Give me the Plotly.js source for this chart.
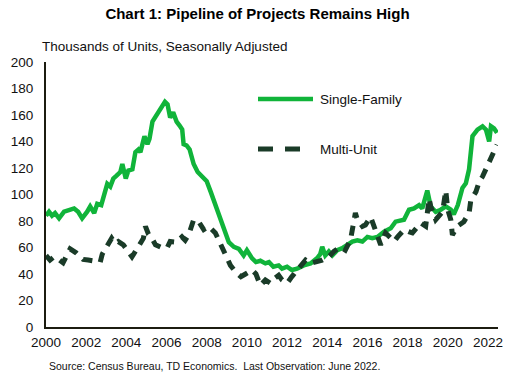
<!DOCTYPE html>
<html>
<head>
<meta charset="utf-8">
<script src="https://cdn.plot.ly/plotly-3.0.1.min.js"></script>
<style>html,body{margin:0;padding:0;background:#fff;}#chart{width:515px;height:385px;}</style>
</head>
<body>
<div id="chart"></div>
<script>
// Single-family units under construction (thousands, SA)
const sfYears = [2000.0,2000.15,2000.3,2000.45,2000.65,2000.9,2001.1,2001.4,2001.6,2001.8,2002.05,2002.2,2002.4,2002.55,2002.75,2002.85,2003.05,2003.2,2003.35,2003.5,2003.7,2003.8,2003.97,2004.1,2004.3,2004.45,2004.6,2004.7,2004.9,2005.05,2005.15,2005.3,2005.55,2005.75,2005.92,2006.05,2006.18,2006.33,2006.5,2006.65,2006.78,2006.85,2007.0,2007.15,2007.35,2007.55,2007.75,2008.0,2008.2,2008.35,2008.6,2008.85,2009.1,2009.35,2009.6,2009.84,2010.0,2010.25,2010.45,2010.67,2010.92,2011.1,2011.32,2011.58,2011.75,2012.0,2012.24,2012.5,2012.83,2013.17,2013.5,2013.65,2013.75,2013.9,2014.08,2014.25,2014.5,2014.75,2015.0,2015.25,2015.5,2015.75,2016.0,2016.24,2016.5,2016.83,2017.16,2017.4,2017.82,2018.07,2018.32,2018.57,2018.73,2018.98,2019.15,2019.4,2019.65,2019.9,2020.15,2020.3,2020.5,2020.73,2020.9,2021.06,2021.23,2021.48,2021.73,2021.9,2022.06,2022.15,2022.3,2022.45];
const sfValues = [84,87,84,86,82,87,88,89.5,87,82,87,91,86,93,92,98,108,106,112,114,117,123,112,118,119,132,134,132,144,138,142,155,161,165,170,168,158,162,155,152,149,138,137,134,123,117,114,110,102,96,86,76,64,60.5,59,54,58,52,49,50,48,49,45.5,46.5,44,45.5,43,44,46.5,48,52,55,60.5,54,57,54,58,59.5,62,64.5,65.5,64.5,68,67,68,72,74.5,79.5,81,88.5,89.5,92,89.5,103,91,87,88.5,91,88.5,85,92,105,108.5,119,144,149,151.5,149,140,151.5,150,146.5];

// Multi-unit units under construction (thousands, SA)
const muYears = [2000.0,2000.2,2000.4,2000.55,2000.85,2001.05,2001.2,2001.5,2001.85,2002.1,2002.4,2002.7,2002.8,2003.1,2003.27,2003.45,2003.6,2003.85,2004.28,2004.55,2004.85,2004.95,2005.1,2005.27,2005.45,2005.75,2006.02,2006.18,2006.5,2006.77,2006.93,2007.1,2007.35,2007.6,2007.85,2008.1,2008.43,2008.6,2008.84,2009.18,2009.5,2009.7,2009.93,2010.26,2010.45,2010.67,2010.92,2011.17,2011.4,2011.58,2011.75,2012.0,2012.24,2012.5,2012.92,2013.17,2013.42,2013.75,2014.08,2014.33,2014.66,2014.9,2015.16,2015.4,2015.5,2015.75,2015.9,2016.16,2016.33,2016.66,2016.9,2017.1,2017.33,2017.5,2017.83,2018.05,2018.24,2018.65,2018.9,2019.07,2019.15,2019.4,2019.57,2019.74,2019.9,2020.0,2020.15,2020.23,2020.48,2020.8,2021.06,2021.15,2021.4,2021.57,2021.73,2021.98,2022.15,2022.45];
const muValues = [54,50.5,53,52,48.5,55,59,56,51,50.5,50,49,55,62,67,63,64.5,62,53,59.5,67,76,70,67,62,60,59.5,64.5,64,68,65.5,69.5,81,79.5,73.5,76,71,65.5,58,46.5,40.5,38,40,43,40,31.5,35.5,33,37,39,35.5,33,38,43,50.5,48,49,50.5,53,57,60.5,58,66,86,81,76,77,83,76,62,71,68,64.5,68,73.5,72,71,78.5,76,97,91,81,84.5,87,103,88.5,81,69.5,76,79.5,86,96,102,110,113.5,122.5,129,137.5];

const xTickVals = [2000,2002,2004,2006,2008,2010,2012,2014,2016,2018,2020,2022];
const seriesNames = ['Single-Family','Multi-Unit'];

const green = '#10b43a';
const dark = '#1a3b28';
const font = 'Liberation Sans, Arial, sans-serif';

// plot area in pixels: left 46, right 498, top 62, bottom 327
const L = 46, R = 498, T = 62, B = 327;
const px = X => (X - L) / (R - L);
const py = Y => (B - Y) / (B - T);

const traces = [
  {x: sfYears, y: sfValues, type: 'scatter', mode: 'lines', name: seriesNames[0],
   line: {color: green, width: 4.5}, showlegend: false, hoverinfo: 'x+y'},
  {x: muYears, y: muValues, type: 'scatter', mode: 'lines', name: seriesNames[1],
   line: {color: dark, width: 5, dash: '10px,8px'}, showlegend: false, hoverinfo: 'x+y'}
];

const layout = {
  width: 515, height: 385,
  margin: {l: L, r: 515 - R, t: T, b: 385 - B, pad: 0},
  paper_bgcolor: '#fff', plot_bgcolor: '#fff',
  font: {family: font, size: 13.5, color: '#111'},
  title: {text: '<b>Chart 1: Pipeline of Projects Remains High</b>', font: {family: font, size: 15, color: '#000'},
          x: 0.5, xanchor: 'center', y: 1 - 14/385, yanchor: 'middle', xref: 'container', yref: 'container'},
  xaxis: {range: [2000, 2022.5], tickvals: xTickVals, ticktext: xTickVals.map(String),
          showgrid: false, zeroline: false, showline: true, linecolor: '#1c1c10', linewidth: 2,
          ticks: '', ticklabelstandoff: 2, tickfont: {family: font, size: 13.5, color: '#111'}, fixedrange: true},
  yaxis: {range: [0, 200], dtick: 20, tick0: 0,
          showgrid: false, zeroline: false, showline: true, linecolor: '#1c1c10', linewidth: 2,
          ticks: '', ticklabelstandoff: 8, tickfont: {family: font, size: 13.5, color: '#111'}, fixedrange: true},
  shapes: [
    {type: 'line', xref: 'paper', yref: 'paper', x0: px(258), x1: px(313), y0: py(99), y1: py(99),
     line: {color: green, width: 4.5}},
    {type: 'line', xref: 'paper', yref: 'paper', x0: px(258), x1: px(302), y0: py(149), y1: py(149),
     line: {color: dark, width: 5, dash: '15px,12px'}}
  ],
  annotations: [
    {text: 'Thousands of Units, Seasonally Adjusted', xref: 'paper', yref: 'paper',
     x: px(40), y: py(46), xanchor: 'left', yanchor: 'middle', showarrow: false,
     font: {family: font, size: 13.5, color: '#111'}},
    {text: seriesNames[0], xref: 'paper', yref: 'paper', x: px(318), y: py(99),
     xanchor: 'left', yanchor: 'middle', showarrow: false, font: {family: font, size: 13.5, color: '#111'}},
    {text: seriesNames[1], xref: 'paper', yref: 'paper', x: px(318), y: py(149),
     xanchor: 'left', yanchor: 'middle', showarrow: false, font: {family: font, size: 13.5, color: '#111'}},
    {text: 'Source: Census Bureau, TD Economics.\u00a0 Last Observation: June 2022.', xref: 'paper', yref: 'paper',
     x: px(47), y: py(366), xanchor: 'left', yanchor: 'middle', showarrow: false,
     font: {family: font, size: 10.5, color: '#111'}}
  ]
};

Plotly.newPlot('chart', traces, layout, {displayModeBar: false, staticPlot: true});
</script>
</body>
</html>
